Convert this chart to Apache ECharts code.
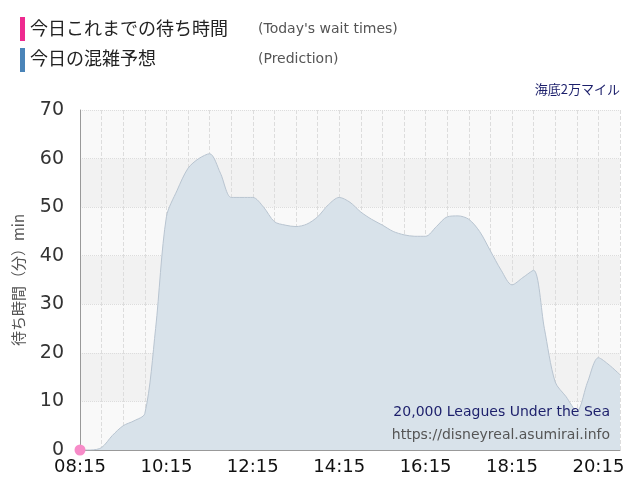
<!DOCTYPE html>
<html><head><meta charset="utf-8">
<script src="https://cdn.jsdelivr.net/npm/echarts@6/dist/echarts.min.js"></script>
<style>html,body{margin:0;padding:0;background:#fff}#c{width:640px;height:500px}</style>
</head><body><div id="c"></div>
<script>
const times = [];
for (let m = 8*60+15; m <= 20*60+45; m += 15) times.push(String(Math.floor(m/60)).padStart(2,'0')+':'+String(m%60).padStart(2,'0'));
const prediction = [0,0,0.5,3,5,6,7.5,25,48,53.5,58,60,61,57,52,52,52,50,47,46.3,46,46.5,48,50.5,52,51,49,47.5,46.3,45,44.3,44,44,46,48,48.2,47.5,45,41,37,34,35.5,37,25,14,11,8,14,19,17.5,15.5];
const today = [0];
const yTicks = [0,10,20,30,40,50,60,70];
const chart = echarts.init(document.getElementById('c'));
const F = 'Verdana, "DejaVu Sans", "Noto Sans CJK JP", sans-serif';
chart.setOption({
  animation:false,
  graphic:[
    {type:'rect',left:20,top:17,shape:{width:5,height:24},style:{fill:'#ee2a8f'}},
    {type:'text',left:30,top:19,style:{text:'今日これまでの待ち時間',font:'18px "Noto Sans CJK JP"',fill:'#222'}},
    {type:'text',left:258,top:22,style:{text:"(Today's wait times)",font:'14px '+F,fill:'#555'}},
    {type:'rect',left:20,top:48,shape:{width:5,height:24},style:{fill:'#4a84b8'}},
    {type:'text',left:30,top:49,style:{text:'今日の混雑予想',font:'18px "Noto Sans CJK JP"',fill:'#222'}},
    {type:'text',left:258,top:52,style:{text:'(Prediction)',font:'14px '+F,fill:'#555'}},
    {type:'text',right:20,top:83,style:{text:'海底2万マイル',font:'13px "Noto Sans CJK JP"',fill:'#1c1f6b',align:'right'}},
    {type:'text',right:30,top:405,style:{text:'20,000 Leagues Under the Sea',font:'14px '+F,fill:'#1c1f6b'},z:10},
    {type:'text',right:30,top:428,style:{text:'https://disneyreal.asumirai.info',font:'14px '+F,fill:'#555'},z:10}
  ],
  grid:{left:80,right:20,top:110,bottom:50},
  xAxis:{type:'category',data:times,boundaryGap:false,
    axisLine:{lineStyle:{color:'#999'}},axisTick:{show:false},
    axisLabel:{interval:7,color:'#111',fontSize:18,fontFamily:F,margin:8},
    splitLine:{show:true,interval:1,lineStyle:{color:'#ddd',type:'dashed'}}},
  yAxis:{type:'value',min:0,max:70,interval:10,
    name:'待ち時間（分）min',nameLocation:'middle',nameGap:54,nameTextStyle:{color:'#555',fontSize:15,fontFamily:'"Noto Sans CJK JP"'},
    axisLine:{show:true,lineStyle:{color:'#999'}},axisTick:{show:false},
    axisLabel:{color:'#333',fontSize:19,fontFamily:F,margin:16},
    splitLine:{lineStyle:{color:'#ddd',type:'dotted'}},
    splitArea:{show:true,areaStyle:{color:['#f9f9f9','#f2f2f2']}}},
  series:[
    {type:'line',data:prediction,smooth:0.3,symbol:'none',lineStyle:{color:'#b8c4d0',width:1},areaStyle:{color:'#d8e2ea',opacity:1}},
    {type:'line',data:today,symbol:'circle',symbolSize:11,itemStyle:{color:'#f78bc8'},z:5}
  ]
});
</script></body></html>
